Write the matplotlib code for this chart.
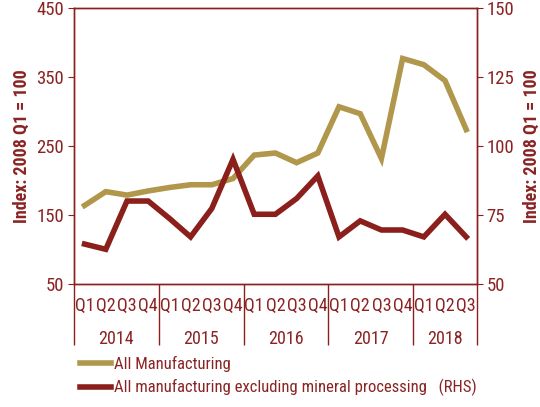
import matplotlib
matplotlib.use("Agg")
import matplotlib.pyplot as plt
import matplotlib.transforms as mtransforms

plt.rcParams['font.family'] = ['Roboto Condensed', 'DejaVu Sans']

# données
quarters = ["Q1", "Q2", "Q3", "Q4"] * 4 + ["Q1", "Q2", "Q3"]
years = ["2014", "2015", "2016", "2017", "2018"]
all_manuf = [164, 184, 179, 185, 190, 194, 194, 203, 237, 240, 226, 240,
             307, 297, 232, 377, 368, 345, 274]
excl_mineral = [64.5, 62.6, 80.1, 80.1, 73.8, 67.1, 77.4, 95.2, 75.3, 75.3,
                81.0, 89.2, 67.1, 72.9, 69.6, 69.6, 67.1, 75.3, 67.1]

gold = "#B0974B"
red = "#8B1F1C"
txt = "#8B2323"

fig = plt.figure(figsize=(5.4, 4.07), dpi=100)
ax = fig.add_axes([0.137, 0.302, 0.746, 0.678])
ax2 = ax.twinx()

x = list(range(len(quarters)))
l1, = ax.plot(x, all_manuf, color=gold, lw=4, solid_joinstyle="miter")
l2, = ax2.plot(x, excl_mineral, color=red, lw=4, solid_joinstyle="miter")

ax.set_xlim(-0.5, len(quarters) - 0.5)
ax.set_ylim(50, 450)
ax.set_yticks([50, 150, 250, 350, 450])
ax2.set_ylim(50, 150)
ax2.set_yticks([50, 75, 100, 125, 150])

for a in (ax, ax2):
    for s in a.spines.values():
        s.set_color(red)
        s.set_linewidth(1)
ax.tick_params(axis="y", colors=red, labelcolor=txt, labelsize=13.5, length=4, pad=3)
ax2.tick_params(axis="y", colors=red, labelcolor=txt, labelsize=13.5, length=4, pad=3)

# séparateurs d'années et étiquettes trimestres
ax.set_xticks([-0.5, 3.5, 7.5, 11.5, 15.5, 18.5])
ax.set_xticklabels([])
ax.tick_params(axis="x", which="major", colors=red, length=44, width=1)
ax.set_xticks(x, minor=True)
ax.set_xticklabels(quarters, minor=True)
ax.tick_params(axis="x", which="minor", length=0, labelcolor=txt, labelsize=13, pad=9)

trans = mtransforms.blended_transform_factory(ax.transData, ax.transAxes)
starts = [0, 4, 8, 12, 16]
for yr, s in zip(years, starts):
    n = 4 if s < 16 else 3
    ax.text(s + (n - 1) / 2, -0.2, yr, transform=trans, ha="center", va="center",
            color=txt, fontsize=13)

ax.set_ylabel("Index: 2008 Q1 = 100", color=txt, fontsize=13, fontweight="bold", labelpad=4)
ax2.set_ylabel("Index: 2008 Q1 = 100", color=txt, fontsize=13, fontweight="bold",
               rotation=90, labelpad=6)

fig.legend([l1, l2], ["All Manufacturing",
                      "All manufacturing excluding mineral processing   (RHS)"],
           loc="upper left", bbox_to_anchor=(0.135, 0.141), frameon=False,
           fontsize=12, labelcolor=txt, handlelength=1.9, handletextpad=0.15,
           labelspacing=0.4, borderaxespad=0)

fig.savefig("out.png", dpi=100)
